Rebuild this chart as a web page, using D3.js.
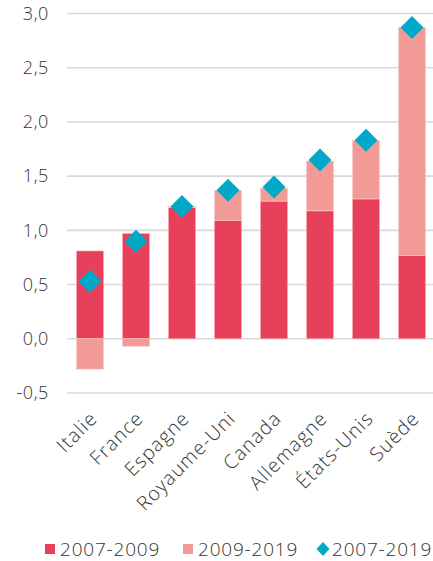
<!DOCTYPE html>
<html><head><meta charset="utf-8">
<script src="https://cdn.jsdelivr.net/npm/d3@7"></script>
<style>body{margin:0;background:#fff}svg{display:block}text{font-family:"Open Sans",sans-serif;fill:#333;font-weight:300}</style>
</head><body><svg id="c" width="433" height="561"></svg>
<script>
const categories = ["Italie","France","Espagne","Royaume-Uni","Canada","Allemagne","États-Unis","Suède"];
const s2007_2009 = [0.81,0.97,1.21,1.09,1.27,1.18,1.29,0.77];
const s2009_2019 = [-0.28,-0.07,0.01,0.28,0.12,0.46,0.54,2.10];
const s2007_2019 = [0.53,0.90,1.22,1.37,1.40,1.65,1.83,2.87];
const yTicks = [-0.5,0,0.5,1,1.5,2,2.5,3];
const seriesNames = ["2007-2009","2009-2019","2007-2019"];
const colors = ["#E8405A","#F29B96","#00A9C8"];

const svg = d3.select("#c");
const x = d3.scaleBand().domain(categories).range([67,435]).paddingInner(0.41).paddingOuter(0.205);
const y = d3.scaleLinear().domain([-0.5,3]).range([393,13.5]);
const fmt = v => d3.format(".1f")(v).replace(".",",").replace("−","-");

// grid
svg.append("g").selectAll("line").data(yTicks).join("line")
  .attr("x1",67).attr("x2",433).attr("y1",d=>y(d)).attr("y2",d=>y(d))
  .attr("stroke","#d9d9d9").attr("stroke-width",1.6);
svg.append("g").selectAll("text").data(yTicks).join("text")
  .attr("x",49).attr("y",d=>y(d)).attr("dy","0.35em").attr("text-anchor","end")
  .attr("font-size",18).attr("letter-spacing",0.6).text(fmt);

// bars
const g = svg.append("g");
categories.forEach((c,i)=>{
  const a = s2007_2009[i], b = s2009_2019[i];
  g.append("rect").attr("x",x(c)).attr("width",x.bandwidth())
    .attr("y",y(Math.max(a,0))).attr("height",Math.abs(y(a)-y(0)))
    .attr("fill",colors[0]).attr("stroke","#f7b3b3").attr("stroke-width",0.6);
  const b0 = b>=0 ? a : 0, b1 = b>=0 ? a+b : b;
  g.append("rect").attr("x",x(c)).attr("width",x.bandwidth())
    .attr("y",y(Math.max(b0,b1))).attr("height",Math.abs(y(b0)-y(b1)))
    .attr("fill",colors[1]).attr("stroke","#fbd0cd").attr("stroke-width",0.6);
});
// diamonds
const dsz = 11.5;
svg.append("g").selectAll("path").data(categories).join("path")
  .attr("d",(c,i)=>{const cx=x(c)+x.bandwidth()/2, cy=y(s2007_2019[i]);
    return `M${cx},${cy-dsz}L${cx+dsz},${cy}L${cx},${cy+dsz}L${cx-dsz},${cy}Z`;})
  .attr("fill",colors[2]);

// x labels
svg.append("g").selectAll("text").data(categories).join("text")
  .attr("transform",c=>`translate(${x(c)+x.bandwidth()/2-1},${410}) rotate(-45)`)
  .attr("text-anchor","end").attr("dy","0.7em").attr("font-size",19.5).attr("letter-spacing",1.1).text(d=>d);

// legend
const lg = svg.append("g");
const lx = [45,183,317];
seriesNames.forEach((n,i)=>{
  if(i<2) lg.append("rect").attr("x",lx[i]).attr("y",544).attr("width",10).attr("height",10).attr("fill",colors[i]);
  else lg.append("path").attr("d",`M${lx[i]+6},542L${lx[i]+12.5},549L${lx[i]+6},556L${lx[i]-0.5},549Z`).attr("fill",colors[i]);
  lg.append("text").attr("x",lx[i]+15).attr("y",549).attr("dy","0.35em").attr("font-size",19).attr("letter-spacing",0.8).text(n);
});
</script></body></html>
